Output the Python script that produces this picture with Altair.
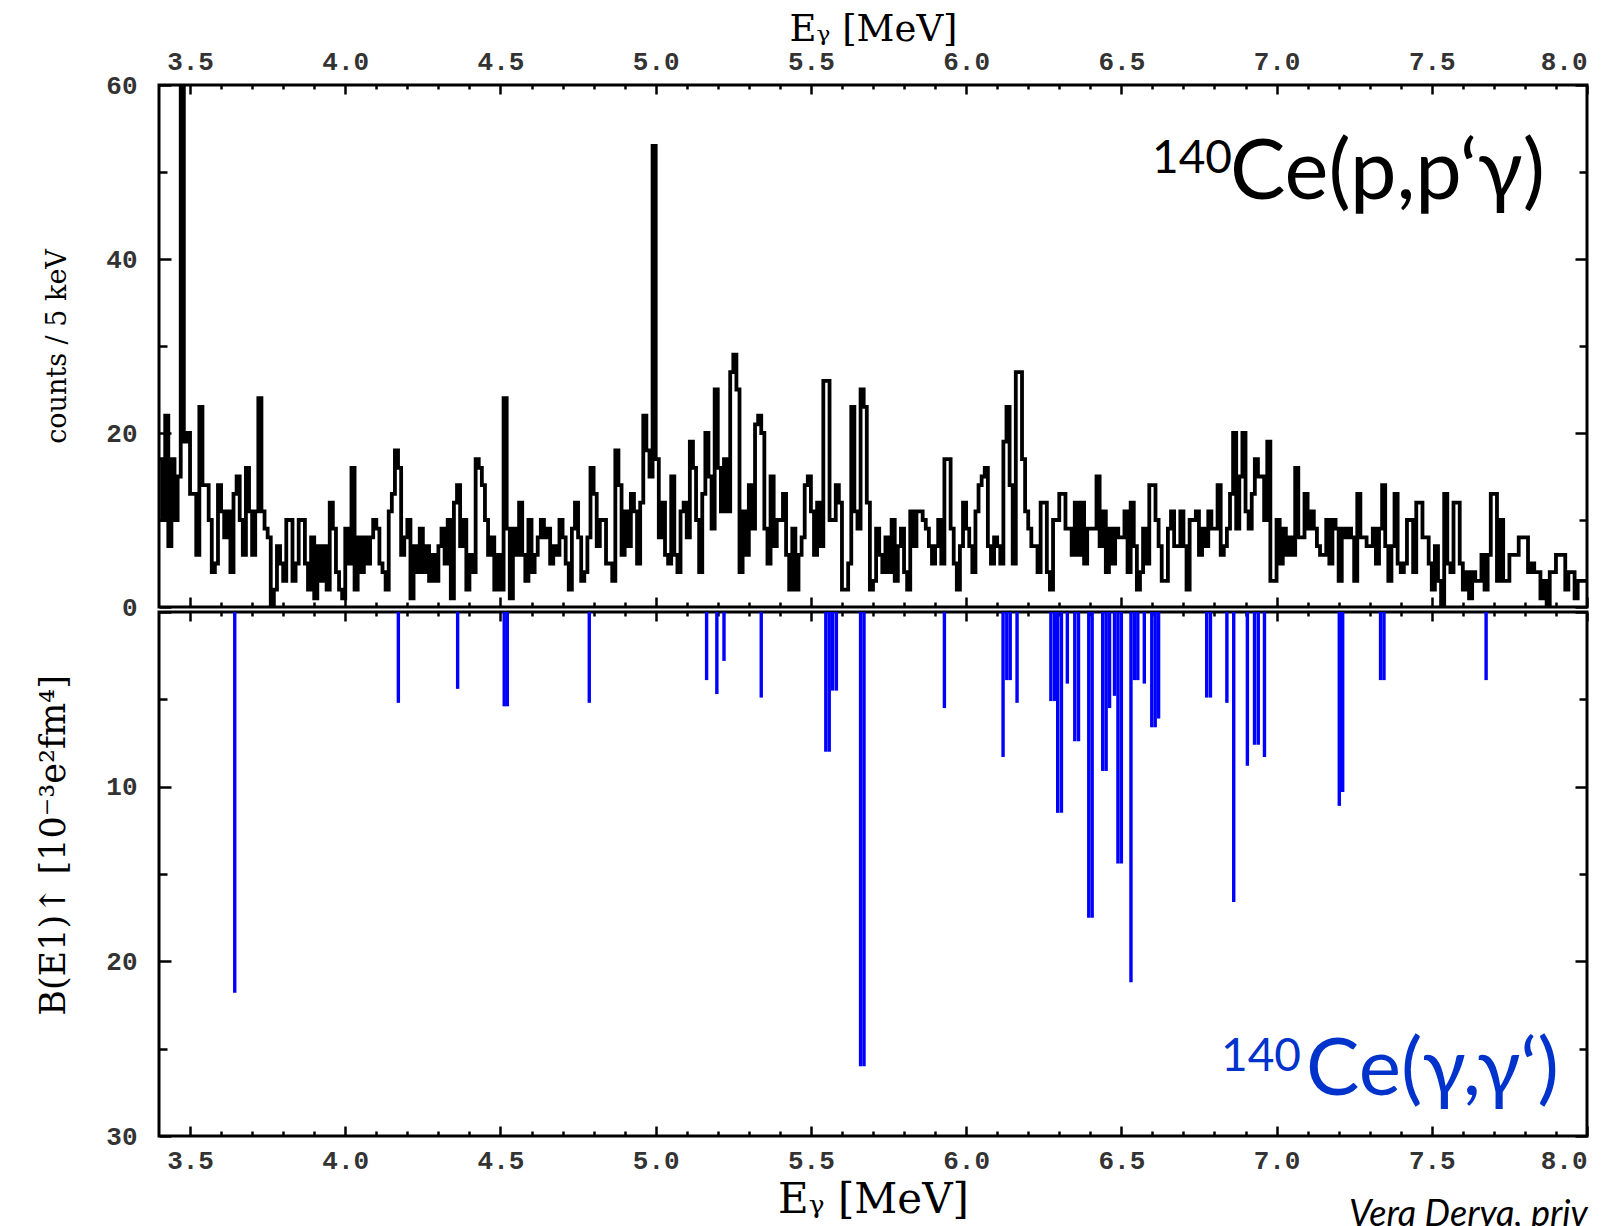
import altair as alt
import pandas as pd

# ---------------- data ----------------
E_START = 3.40      # MeV, left edge of first bin
BIN_WIDTH = 0.01    # MeV

counts = [
    17, 10, 22, 7, 17, 10, 15, 120, 19, 20,
    13, 13, 6, 23, 14, 14, 10, 4, 5, 14,
    11, 8, 11, 4, 13, 15, 10, 6, 16, 11,
    6, 11, 24, 11, 9, 8, 0, 2, 7, 5,
    3, 10, 10, 3, 5, 10, 10, 5, 2, 8,
    1, 7, 3, 7, 2, 12, 9, 4, 2, 1,
    9, 5, 16, 2, 8, 4, 8, 5, 8, 10,
    9, 5, 4, 2, 11, 13, 18, 16, 6, 8,
    10, 1, 7, 4, 9, 4, 7, 3, 6, 3,
    7, 9, 5, 10, 1, 12, 14, 7, 10, 2,
    6, 4, 17, 16, 14, 10, 6, 8, 2, 6,
    2, 24, 9, 1, 9, 6, 12, 6, 3, 10,
    4, 6, 8, 10, 8, 9, 5, 7, 6, 10,
    8, 5, 2, 9, 12, 8, 3, 4, 8, 16,
    13, 7, 10, 10, 5, 5, 3, 18, 14, 6,
    11, 7, 13, 11, 5, 12, 22, 18, 15, 53,
    17, 8, 12, 6, 5, 15, 6, 4, 11, 12,
    8, 19, 16, 10, 4, 13, 20, 15, 9, 25,
    16, 11, 17, 11, 27, 29, 25, 4, 11, 6,
    14, 9, 21, 22, 20, 9, 5, 15, 7, 10,
    10, 13, 6, 2, 9, 2, 6, 8, 14, 15,
    11, 6, 12, 7, 26, 26, 10, 10, 14, 12,
    2, 2, 5, 23, 11, 9, 25, 23, 12, 2,
    3, 9, 6, 4, 8, 4, 10, 3, 7, 9,
    4, 2, 11, 7, 11, 11, 10, 9, 7, 5,
    7, 10, 5, 17, 17, 9, 5, 2, 7, 12,
    9, 7, 4, 11, 14, 15, 16, 7, 5, 8,
    7, 5, 19, 23, 14, 5, 27, 27, 17, 11,
    9, 7, 7, 4, 12, 12, 4, 2, 10, 10,
    13, 13, 9, 9, 6, 12, 6, 12, 5, 9,
    9, 9, 15, 7, 11, 4, 9, 5, 9, 8,
    8, 11, 4, 12, 7, 2, 4, 9, 5, 14,
    14, 10, 7, 3, 3, 9, 11, 7, 7, 11,
    7, 2, 10, 10, 11, 6, 9, 7, 11, 9,
    9, 14, 6, 7, 9, 13, 20, 9, 15, 20,
    11, 9, 13, 17, 15, 15, 10, 19, 3, 3,
    10, 5, 9, 6, 8, 6, 16, 8, 8, 13,
    9, 11, 9, 7, 6, 6, 10, 5, 10, 9,
    3, 9, 8, 9, 8, 3, 13, 8, 8, 7,
    7, 9, 5, 9, 14, 7, 3, 7, 13, 5,
    4, 5, 10, 10, 4, 12, 12, 8, 8, 5,
    2, 7, 3, 0, 13, 5, 4, 12, 12, 5,
    2, 4, 1, 4, 3, 3, 6, 2, 6, 13,
    13, 3, 10, 3, 3, 6, 6, 6, 8, 8,
    8, 4, 5, 4, 4, 1, 3, 0, 4, 4,
    6, 6, 6, 2, 4, 4, 1, 3, 3, 3,
]

line_energy = [
    3.644, 4.171, 4.362, 4.512, 4.522, 4.786, 5.164, 5.197, 5.220, 5.340,
    5.548, 5.559, 5.570, 5.582, 5.660, 5.671, 5.930, 6.119, 6.131, 6.142,
    6.164, 6.273, 6.285, 6.295, 6.307, 6.326, 6.350, 6.362, 6.395, 6.406,
    6.440, 6.451, 6.462, 6.478, 6.489, 6.500, 6.531, 6.542, 6.553, 6.574,
    6.598, 6.609, 6.620, 6.775, 6.787, 6.840, 6.862, 6.906, 6.929, 6.941,
    6.961, 7.202, 7.213, 7.335, 7.346, 7.675,
]
line_bE1 = [
    21.8, 5.2, 4.4, 5.4, 5.4, 5.2, 3.9, 4.7, 2.8, 4.9,
    8.0, 8.0, 4.5, 4.5, 26.0, 26.0, 5.5, 8.3, 3.9, 3.9,
    5.2, 5.1, 5.1, 11.5, 11.5, 4.1, 7.4, 7.4, 17.5, 17.5,
    9.1, 9.1, 5.5, 4.8, 14.4, 14.4, 21.2, 3.9, 3.9, 4.1,
    6.6, 6.6, 6.1, 4.9, 4.9, 5.2, 16.6, 8.8, 7.6, 7.6,
    8.3, 11.1, 10.3, 3.9, 3.9, 3.9,
]

x_domain = [3.4, 8.0]
counts_domain = [0, 60]
bE1_domain = [0, 30]

x_major = [3.5, 4.0, 4.5, 5.0, 5.5, 6.0, 6.5, 7.0, 7.5, 8.0]
x_minor = [3.6, 3.7, 3.8, 3.9, 4.1, 4.2, 4.3, 4.4, 4.6, 4.7, 4.8, 4.9,
           5.1, 5.2, 5.3, 5.4, 5.6, 5.7, 5.8, 5.9, 6.1, 6.2, 6.3, 6.4,
           6.6, 6.7, 6.8, 6.9, 7.1, 7.2, 7.3, 7.4, 7.6, 7.7, 7.8, 7.9]
counts_labels = [0, 20, 40, 60]
counts_minor = [10, 30, 50]
b_labels = [10, 20, 30]
b_major = [0, 10, 20, 30]
b_minor = [5, 15, 25]

top_label = "Ce(p,p‘γ)"
bot_label = "Ce(γ,γ‘)"
mass_label = "140"
credit = "Vera Derya, priv"

# ---------------- layout ----------------
W = 1428
H1 = 522
H2 = 524

LABEL_FONT = "Liberation Mono"
TITLE_FONT = "DejaVu Serif"
ANN_FONT = "Lato, Noto Sans"

edges = [E_START + BIN_WIDTH * i for i in range(len(counts) + 1)]
hist_df = pd.DataFrame({"E": edges, "counts": counts + [counts[-1]]})
lines_df = pd.DataFrame({"E": line_energy, "B": line_bE1})
frame_top = pd.DataFrame({"E": x_domain, "counts": counts_domain})
frame_bot = pd.DataFrame({"E": x_domain, "B": bE1_domain})

x_sc = alt.Scale(domain=x_domain, nice=False, zero=False)
y1_sc = alt.Scale(domain=counts_domain, nice=False, zero=False)
y2_sc = alt.Scale(domain=bE1_domain, nice=False, zero=False, reverse=True)


def tick_axis(orient, values, size, offset):
    return alt.Axis(orient=orient, values=values, tickSize=size, offset=offset,
                    labels=False, domain=False, grid=False, title=None,
                    ticks=True, tickColor="black", tickWidth=2.5)


def x_label_axis(orient, title, title_size, label_pad, title_pad):
    return alt.Axis(orient=orient, values=x_major, format=".1f",
                    ticks=False, domain=False, grid=False,
                    labelFont=LABEL_FONT, labelFontSize=26, labelFontWeight="bold",
                    labelColor="#333333", labelPadding=label_pad,
                    title=title, titleFont=TITLE_FONT, titleFontSize=title_size,
                    titleFontWeight="normal", titleColor="black", titlePadding=title_pad)


def y_label_axis(values, title, title_size, title_y):
    return alt.Axis(orient="left", values=values, format=".0f",
                    ticks=False, domain=False, grid=False,
                    labelFont=LABEL_FONT, labelFontSize=26, labelFontWeight="bold",
                    labelColor="#333333", labelPadding=22,
                    title=title, titleFont=TITLE_FONT, titleFontSize=title_size,
                    titleFontWeight="normal", titleColor="black",
                    titleX=-88, titleY=title_y, titleAngle=-90,
                    titleBaseline="bottom", titleAlign="center")


def tick_layers(frame, yfield, yscale, h, ymaj, ymin):
    base = alt.Chart(frame).mark_line(opacity=0)
    specs = [
        ("bottom", x_major, 9, "right", ymaj, 12),
        ("bottom", x_minor, 4, "right", ymin, 8),
        ("top", x_major, 10, "left", ymaj, 12),
        ("top", x_minor, 5, "left", ymin, 8),
    ]
    out = []
    for xo, xv, xs, yo, yv, ys in specs:
        out.append(base.encode(
            x=alt.X("E:Q", scale=x_sc, axis=tick_axis(xo, xv, xs, -h)),
            y=alt.Y(yfield, scale=yscale, axis=tick_axis(yo, yv, ys, -W)),
        ))
    return out


def text_layer(txt, x, y, size, color, style="normal"):
    return alt.Chart(pd.DataFrame({"t": [txt]})).mark_text(
        align="left", baseline="alphabetic", font=ANN_FONT, fontSize=size,
        color=color, fontStyle=style,
    ).encode(text="t:N", x=alt.value(x), y=alt.value(y))


# ---------------- top panel ----------------
hist = alt.Chart(hist_df).mark_line(
    interpolate="step-after", color="black", strokeWidth=3.8, clip=True
).encode(
    x=alt.X("E:Q", scale=x_sc, axis=x_label_axis("top", "Eᵧ [MeV]", 37, 11, 0)),
    y=alt.Y("counts:Q", scale=y1_sc,
            axis=y_label_axis(counts_labels, "counts / 5 keV", 27, H1 / 2)),
)

top = alt.layer(
    hist,
    *tick_layers(frame_top, "counts:Q", y1_sc, H1, counts_labels, counts_minor),
    text_layer(mass_label, 993, 88, 46, "black"),
    text_layer(top_label, 1071, 114, 83, "black"),
).resolve_axis(x="independent", y="independent").properties(width=W, height=H1)

# ---------------- bottom panel ----------------
bars = alt.Chart(lines_df).mark_rule(color="#0000ff", strokeWidth=3.4).encode(
    x=alt.X("E:Q", scale=x_sc, axis=x_label_axis("bottom", "Eᵧ [MeV]", 42, 11, 6)),
    y=alt.Y("B:Q", scale=y2_sc,
            axis=y_label_axis(b_labels, "B(E1)↑ [10⁻³e²fm⁴]", 35, 233)),
    y2=alt.datum(0),
)

bottom = alt.layer(
    bars,
    *tick_layers(frame_bot, "B:Q", y2_sc, H2, b_major, b_minor),
    text_layer(mass_label, 1062, 459, 46, "#0033cc"),
    text_layer(bot_label, 1147, 483, 80, "#0033cc"),
    text_layer(credit, 1190, 614, 36, "black", "italic"),
).resolve_axis(x="independent", y="independent").properties(width=W, height=H2)

chart = alt.vconcat(top, bottom, spacing=5, bounds="flush").properties(
    padding={"left": 26, "top": 0, "right": 0, "bottom": 0}
).configure_view(stroke="black", strokeWidth=3)

chart.save("out.html", embed_options={"renderer": "svg", "actions": False})
